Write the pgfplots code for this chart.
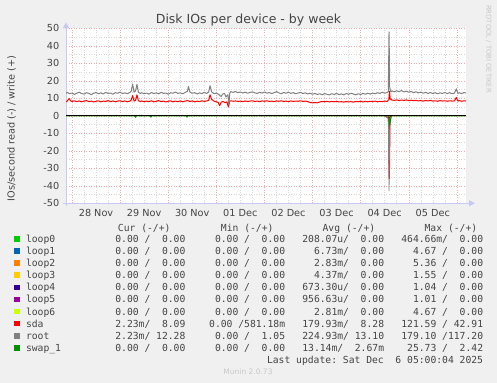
\documentclass[border=0pt]{standalone}
\usepackage{fontspec}
\setmainfont{DejaVu Sans}
\newfontfamily\monofont{DejaVu Sans Mono}
\usepackage{pgfplots}
\pgfplotsset{compat=1.18}
\usetikzlibrary{arrows.meta}
\definecolor{bgc}{HTML}{F0F0F0}
\definecolor{txt}{HTML}{444444}
\definecolor{axc}{HTML}{C8C8F5}
\definecolor{mgc}{HTML}{F0A8A8}
\definecolor{gc}{HTML}{D8D8D8}
\definecolor{cloopa}{HTML}{00CC00}
\definecolor{cloopb}{HTML}{0066B3}
\definecolor{cloopc}{HTML}{FF8000}
\definecolor{cloopd}{HTML}{FFCC00}
\definecolor{cloope}{HTML}{330099}
\definecolor{cloopf}{HTML}{990099}
\definecolor{cloopg}{HTML}{CCFF00}
\definecolor{csda}{HTML}{FF0000}
\definecolor{croot}{HTML}{808080}
\definecolor{cswap}{HTML}{008F00}
\newcommand\tickfont{\fontsize{9.7bp}{11bp}\selectfont}
\newcommand\mono{\monofont\fontsize{9.7bp}{11bp}\selectfont}
\newcommand\lrow[7]{%
  \fill[#2] (14.3bp,{-(#1-2.9)*1bp}) rectangle ++(5.8bp,-5.8bp);
  \node[anchor=base west,inner sep=0,text=txt] at (25.8bp,{-(#1+3.5)*1bp}) {\mono #3};
  \node[anchor=base east,inner sep=0,text=txt] at (185.6bp,{-(#1+3.5)*1bp}) {\mono #4};
  \node[anchor=base east,inner sep=0,text=txt] at (285.3bp,{-(#1+3.5)*1bp}) {\mono #5};
  \node[anchor=base east,inner sep=0,text=txt] at (384.3bp,{-(#1+3.5)*1bp}) {\mono #6};
  \node[anchor=base east,inner sep=0,text=txt] at (483.3bp,{-(#1+3.5)*1bp}) {\mono #7};
}
\begin{document}
\begin{tikzpicture}
\fill[bgc] (0,0) rectangle (497bp,-383bp);
\node[anchor=base,text=txt,inner sep=0] at (248.5bp,-23.7bp) {\fontsize{12.5bp}{14bp}\selectfont Disk IOs per device - by week};
\node[rotate=90,text=txt,inner sep=0] at (11.5bp,-128.5bp) {\tickfont IOs/second read (-) / write (+)};
\node[rotate=-90,anchor=west,inner sep=0,text={rgb,255:red,200;green,200;blue,200}] at (488.5bp,-5bp) {\fontsize{6.8bp}{8bp}\selectfont RRDTOOL / TOBI OETIKER};
\begin{axis}[
  at={(66bp,-203.3bp)}, anchor=south west, scale only axis,
  width=400bp, height=175bp,
  xmin=-0.125, xmax=8.19, ymin=-50, ymax=50,
  axis lines=left,
  axis line style={draw=axc, line width=0.8bp},
  x axis line style={-{Triangle[length=6bp,width=6bp]}, shorten >=-9bp, shorten <=-3bp},
  y axis line style={-{Triangle[length=6bp,width=6bp]}, shorten >=-6bp, shorten <=-3bp},
  xtick={0,1,2,3,4,5,6,7,8},
  xticklabels={28 Nov,29 Nov,30 Nov,01 Dec,02 Dec,03 Dec,04 Dec,05 Dec,{}},
  minor x tick num=3,
  ytick={-50,-40,-30,-20,-10,0,10,20,30,40,50},
  yticklabels={-50,-40,-30,-20,-10,0,10,20,30,40,50},
  minor y tick num=1,
  grid=both,
  major grid style={draw=mgc, dash pattern=on 1bp off 1.5bp, line width=0.5bp},
  minor grid style={draw=gc, dash pattern=on 1bp off 1.5bp, line width=0.5bp},
  tick style={draw=none}, major tick length=0, minor tick length=0,
  xticklabel style={anchor=north, inner sep=0, yshift=-5.5bp, xshift=24bp, font=\tickfont, text=txt},
  yticklabel style={anchor=east, inner sep=0, xshift=-6.5bp, font=\tickfont, text=txt},
  axis background/.style={fill=white},
]
% sda write
\addplot[csda, line width=1bp, line join=round] coordinates {
(-0.12,8.0) (-0.10,8.5) (-0.06,9.8) (-0.03,8.6) (0.00,8.2) (0.05,8.6) (0.10,8.1) (0.15,8.5) (0.20,8.0) (0.25,8.4)
(0.30,8.7) (0.35,8.1) (0.40,8.4) (0.45,7.9) (0.50,8.3) (0.55,8.6) (0.60,8.0) (0.65,8.4) (0.70,8.2) (0.75,8.7)
(0.80,8.1) (0.85,8.5) (0.90,8.0) (0.95,8.4) (1.00,8.6) (1.05,8.1) (1.10,8.5) (1.15,8.0) (1.20,8.4) (1.23,9.0)
(1.26,11.6) (1.29,8.4) (1.32,8.8) (1.35,12.0) (1.38,8.6) (1.42,8.2) (1.45,8.5) (1.50,8.0) (1.55,8.4) (1.60,8.1)
(1.65,8.6) (1.70,8.0) (1.75,8.3) (1.80,8.7) (1.85,8.1) (1.90,8.4) (1.95,7.9) (2.00,8.3) (2.05,8.6) (2.10,8.0)
(2.15,8.4) (2.20,8.1) (2.25,8.5) (2.30,8.0) (2.35,8.4) (2.40,8.7) (2.45,8.2) (2.50,8.5) (2.55,8.0) (2.60,8.4)
(2.65,8.1) (2.70,8.6) (2.75,8.2) (2.80,8.5) (2.84,8.8) (2.87,12.0) (2.90,9.5) (2.95,8.4) (3.00,8.0) (3.04,7.6)
(3.07,5.8) (3.10,7.8) (3.14,8.2) (3.18,7.5) (3.22,8.0) (3.25,5.0) (3.28,8.4) (3.30,8.6) (3.35,8.3) (3.40,8.5)
(3.45,8.2) (3.50,8.4) (3.55,8.1) (3.60,8.5) (3.65,8.2) (3.70,8.4) (3.75,8.6) (3.80,8.2) (3.85,8.4) (3.90,8.1)
(3.95,8.5) (4.00,8.3) (4.05,8.6) (4.10,8.2) (4.15,8.4) (4.20,8.1) (4.25,8.5) (4.30,8.3) (4.35,8.6) (4.40,8.2)
(4.45,8.4) (4.50,8.1) (4.55,8.5) (4.60,8.2) (4.65,8.4) (4.70,8.3) (4.75,8.6) (4.80,8.2) (4.85,8.4) (4.90,8.1)
(4.95,7.6) (5.00,7.4) (5.05,7.6) (5.10,7.4) (5.15,7.9) (5.20,8.2) (5.25,8.0) (5.30,8.3) (5.35,7.9) (5.40,8.2)
(5.45,8.0) (5.50,8.3) (5.55,7.9) (5.60,8.1) (5.65,7.8) (5.70,8.2) (5.75,7.9) (5.80,8.1) (5.85,7.8) (5.90,8.2)
(5.95,8.0) (6.00,8.3) (6.05,7.9) (6.10,8.2) (6.15,8.0) (6.20,8.3) (6.25,8.1) (6.30,8.4) (6.35,8.0) (6.40,8.3)
(6.45,8.1) (6.50,8.4) (6.55,8.2) (6.585,9.2) (6.60,14.0) (6.615,9.6) (6.65,9.0) (6.70,8.8) (6.75,9.1) (6.80,8.7)
(6.85,9.0) (6.90,8.8) (6.95,9.1) (7.00,8.7) (7.05,8.9) (7.10,8.6) (7.15,8.8) (7.20,8.5) (7.25,8.7) (7.30,8.4)
(7.35,8.7) (7.40,8.5) (7.45,8.8) (7.50,8.4) (7.55,8.6) (7.60,8.3) (7.65,8.7) (7.70,8.4) (7.75,8.6) (7.80,8.3)
(7.85,8.6) (7.90,8.4) (7.95,8.5) (7.99,10.5) (8.02,8.4) (8.05,8.7) (8.10,8.3) (8.15,8.6) (8.19,8.5)
};
% root write
\addplot[croot, line width=1bp, line join=round] coordinates {
(-0.12,12.8) (-0.10,13.4) (-0.05,12.6) (0.00,13.0) (0.05,12.2) (0.10,12.9) (0.15,13.5) (0.20,12.7) (0.25,12.4) (0.30,13.2)
(0.35,12.8) (0.40,12.1) (0.45,12.9) (0.50,13.3) (0.55,12.6) (0.60,13.1) (0.65,12.5) (0.70,13.4) (0.75,12.8) (0.80,13.0)
(0.85,12.3) (0.90,13.2) (0.95,12.9) (1.00,13.5) (1.05,12.7) (1.10,13.1) (1.15,12.6) (1.20,13.3) (1.23,14.0) (1.26,18.2)
(1.29,13.5) (1.32,14.2) (1.35,18.0) (1.38,13.4) (1.42,12.8) (1.45,13.2) (1.50,12.6) (1.55,13.0) (1.60,12.4) (1.65,13.3)
(1.70,12.7) (1.75,13.1) (1.80,12.5) (1.85,13.4) (1.90,12.8) (1.95,13.0) (2.00,12.3) (2.05,13.2) (2.10,12.9) (2.15,13.6)
(2.20,12.8) (2.25,13.1) (2.30,12.6) (2.35,13.3) (2.40,14.0) (2.42,16.8) (2.45,13.6) (2.50,12.9) (2.55,13.2) (2.60,12.5)
(2.65,13.1) (2.70,12.7) (2.75,13.4) (2.80,12.8) (2.84,13.6) (2.87,17.2) (2.90,13.8) (2.95,12.6) (3.00,13.0) (3.05,12.2)
(3.10,11.0) (3.13,12.4) (3.17,12.8) (3.20,10.8) (3.24,12.0) (3.26,6.2) (3.28,13.0) (3.30,13.8) (3.35,13.4) (3.40,13.9)
(3.45,13.2) (3.50,13.6) (3.55,13.0) (3.60,13.5) (3.65,12.9) (3.70,13.3) (3.75,13.7) (3.80,13.1) (3.85,12.8) (3.90,13.4)
(3.95,13.0) (4.00,13.6) (4.05,12.9) (4.10,13.3) (4.15,12.7) (4.20,13.2) (4.25,13.8) (4.30,13.1) (4.35,12.6) (4.40,13.3)
(4.45,12.9) (4.50,13.5) (4.55,12.8) (4.60,13.2) (4.65,12.6) (4.70,13.0) (4.75,13.4) (4.80,12.7) (4.85,13.1) (4.90,12.5)
(4.95,12.9) (5.00,12.3) (5.05,12.8) (5.10,12.2) (5.15,12.6) (5.20,12.0) (5.25,12.7) (5.30,12.3) (5.35,11.9) (5.40,12.6)
(5.45,12.2) (5.50,12.8) (5.55,12.1) (5.60,12.5) (5.65,12.0) (5.70,12.7) (5.75,12.3) (5.80,12.9) (5.85,12.4) (5.90,12.0)
(5.95,12.6) (6.00,12.2) (6.05,12.8) (6.10,12.3) (6.15,12.9) (6.20,12.4) (6.25,13.0) (6.30,12.6) (6.35,13.2) (6.40,12.8)
(6.45,13.5) (6.50,12.9) (6.55,13.3) (6.575,13.8) (6.59,48.0) (6.605,16.0) (6.625,13.6) (6.65,14.2) (6.70,13.7) (6.75,14.3)
(6.80,13.8) (6.85,14.4) (6.90,13.6) (6.95,14.1) (7.00,13.5) (7.05,13.9) (7.10,13.2) (7.15,13.7) (7.20,13.1) (7.25,13.5)
(7.30,12.9) (7.35,13.4) (7.40,12.8) (7.45,13.3) (7.50,12.7) (7.55,13.2) (7.60,12.6) (7.65,13.1) (7.70,12.8) (7.75,13.3)
(7.80,12.7) (7.85,13.2) (7.90,12.6) (7.95,13.0) (7.99,15.4) (8.02,12.8) (8.05,13.2) (8.10,12.7) (8.15,13.3) (8.19,13.0)
};
% sda read
\addplot[csda, line width=1.2bp] coordinates {(6.50,0) (6.58,-1) (6.595,-36) (6.61,-0.5) (6.65,0)};
% root read
\addplot[croot, line width=0.8bp] coordinates {(6.50,0) (6.575,-1.5) (6.59,-43) (6.605,-2) (6.65,0)};
% swap_1
\addplot[cswap, line width=1bp] coordinates {
(-0.12,0) (1.30,0) (1.32,-0.8) (1.34,0) (1.62,0) (1.64,-0.7) (1.66,0) (2.37,0) (2.39,-0.7) (2.41,0)
(6.58,0) (6.60,-4.8) (6.625,-2) (6.64,0) (8.19,0)};
% zero line
\addplot[black, line width=1.3bp] coordinates {(-0.12,0) (8.19,0)};
\end{axis}
% legend table
\node[anchor=base east,inner sep=0,text=txt] at (170.7bp,-231bp) {\mono Cur~(-/+)};
\node[anchor=base east,inner sep=0,text=txt] at (273.7bp,-231bp) {\mono Min~(-/+)};
\node[anchor=base east,inner sep=0,text=txt] at (375.4bp,-231bp) {\mono Avg~(-/+)};
\node[anchor=base east,inner sep=0,text=txt] at (477.4bp,-231bp) {\mono Max~(-/+)};
\lrow{239.2}{cloopa}{loop0}{0.00~/~~0.00~}{0.00~/~~0.00~}{208.07u/~~0.00~}{464.66m/~~0.00~}
\lrow{251.25}{cloopb}{loop1}{0.00~/~~0.00~}{0.00~/~~0.00~}{6.73m/~~0.00~}{4.67~/~~0.00~}
\lrow{263.3}{cloopc}{loop2}{0.00~/~~0.00~}{0.00~/~~0.00~}{2.83m/~~0.00~}{5.36~/~~0.00~}
\lrow{275.35}{cloopd}{loop3}{0.00~/~~0.00~}{0.00~/~~0.00~}{4.37m/~~0.00~}{1.55~/~~0.00~}
\lrow{287.4}{cloope}{loop4}{0.00~/~~0.00~}{0.00~/~~0.00~}{673.30u/~~0.00~}{1.04~/~~0.00~}
\lrow{299.45}{cloopf}{loop5}{0.00~/~~0.00~}{0.00~/~~0.00~}{956.63u/~~0.00~}{1.01~/~~0.00~}
\lrow{311.5}{cloopg}{loop6}{0.00~/~~0.00~}{0.00~/~~0.00~}{2.81m/~~0.00~}{4.67~/~~0.00~}
\lrow{323.55}{csda}{sda}{2.23m/~~8.09~}{0.00~/581.18m}{179.93m/~~8.28~}{121.59~/~42.91~}
\lrow{335.6}{croot}{root}{2.23m/~12.28~}{0.00~/~~1.05~}{224.93m/~13.10~}{179.10~/117.20~}
\lrow{347.65}{cswap}{swap\_1}{0.00~/~~0.00~}{0.00~/~~0.00~}{13.14m/~~2.67m}{25.73~/~~2.42~}
\node[anchor=base east,inner sep=0,text=txt] at (483.3bp,-363.2bp) {\mono Last~update:~Sat~Dec~~6~05:00:04~2025~};
\node[inner sep=0,text={rgb,255:red,200;green,200;blue,200}] at (248bp,-371.7bp) {\fontsize{7.5bp}{9bp}\selectfont Munin 2.0.73};
\end{tikzpicture}
\end{document}
